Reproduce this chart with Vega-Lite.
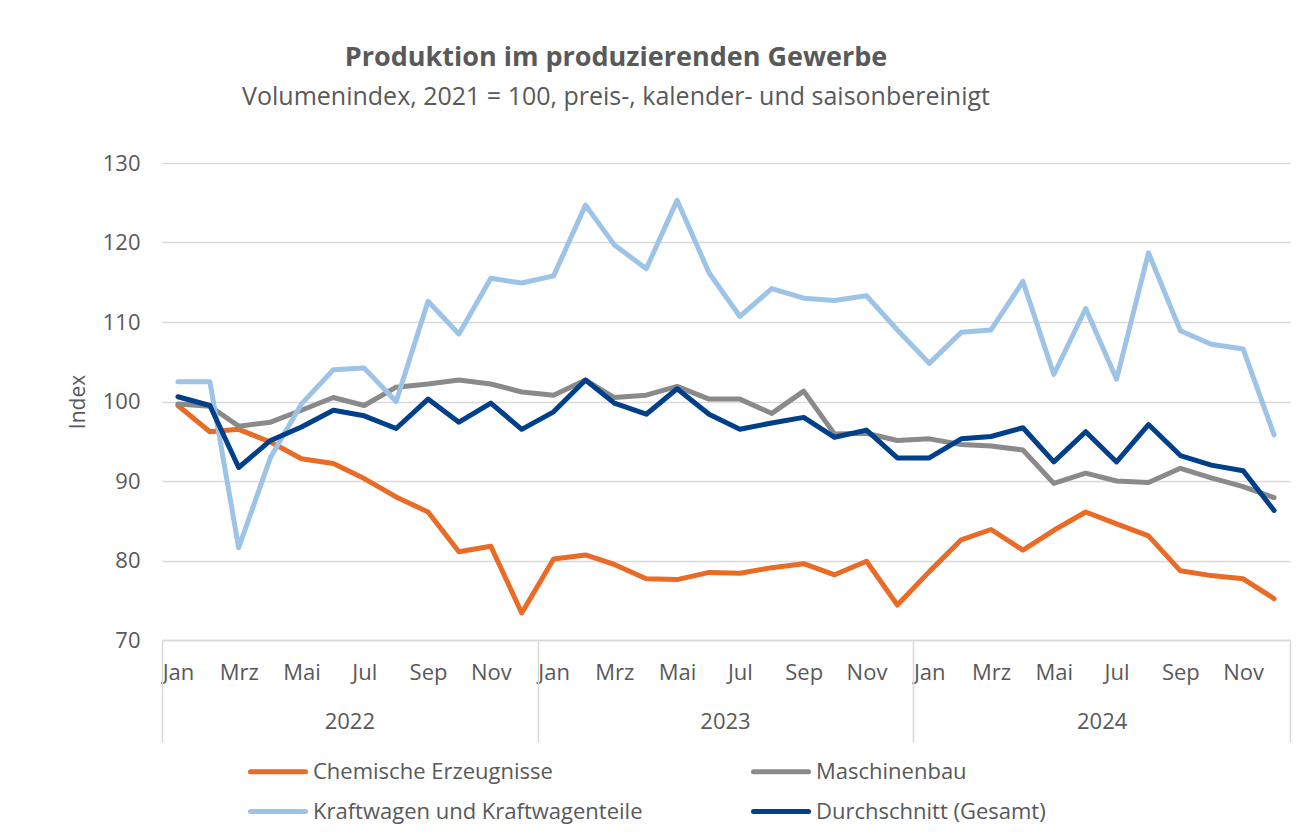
{
  "$schema": "https://vega.github.io/schema/vega-lite/v6.json",
  "width": 1128,
  "height": 477,
  "autosize": {"type": "none"},
  "padding": {"left": 162, "top": 163, "right": 26, "bottom": 194},
  "background": "white",
  "config": {"font": "Open Sans", "view": {"stroke": null}},
  "title": {
    "text": "Produktion im produzierenden Gewerbe",
    "subtitle": "Volumenindex, 2021 = 100, preis-, kalender- und saisonbereinigt",
    "anchor": "middle",
    "frame": "group",
    "dx": -110,
    "offset": 41,
    "font": "Open Sans",
    "fontSize": 27,
    "fontWeight": "bold",
    "color": "#595959",
    "subtitleFont": "Open Sans",
    "subtitleFontSize": 25,
    "subtitleColor": "#595959",
    "subtitlePadding": 13
  },
  "data": {
    "values": [
      {"Monat": "2022-01-01", "Chemische Erzeugnisse": 99.5, "Maschinenbau": 99.7, "Kraftwagen und Kraftwagenteile": 102.5, "Durchschnitt (Gesamt)": 100.6},
      {"Monat": "2022-02-01", "Chemische Erzeugnisse": 96.2, "Maschinenbau": 99.4, "Kraftwagen und Kraftwagenteile": 102.5, "Durchschnitt (Gesamt)": 99.5},
      {"Monat": "2022-03-01", "Chemische Erzeugnisse": 96.5, "Maschinenbau": 96.9, "Kraftwagen und Kraftwagenteile": 81.6, "Durchschnitt (Gesamt)": 91.7},
      {"Monat": "2022-04-01", "Chemische Erzeugnisse": 94.9, "Maschinenbau": 97.4, "Kraftwagen und Kraftwagenteile": 93.0, "Durchschnitt (Gesamt)": 95.1},
      {"Monat": "2022-05-01", "Chemische Erzeugnisse": 92.8, "Maschinenbau": 98.9, "Kraftwagen und Kraftwagenteile": 99.7, "Durchschnitt (Gesamt)": 96.8},
      {"Monat": "2022-06-01", "Chemische Erzeugnisse": 92.2, "Maschinenbau": 100.5, "Kraftwagen und Kraftwagenteile": 104.0, "Durchschnitt (Gesamt)": 98.9},
      {"Monat": "2022-07-01", "Chemische Erzeugnisse": 90.3, "Maschinenbau": 99.5, "Kraftwagen und Kraftwagenteile": 104.2, "Durchschnitt (Gesamt)": 98.2},
      {"Monat": "2022-08-01", "Chemische Erzeugnisse": 88.0, "Maschinenbau": 101.8, "Kraftwagen und Kraftwagenteile": 100.0, "Durchschnitt (Gesamt)": 96.6},
      {"Monat": "2022-09-01", "Chemische Erzeugnisse": 86.1, "Maschinenbau": 102.2, "Kraftwagen und Kraftwagenteile": 112.6, "Durchschnitt (Gesamt)": 100.3},
      {"Monat": "2022-10-01", "Chemische Erzeugnisse": 81.1, "Maschinenbau": 102.7, "Kraftwagen und Kraftwagenteile": 108.5, "Durchschnitt (Gesamt)": 97.4},
      {"Monat": "2022-11-01", "Chemische Erzeugnisse": 81.8, "Maschinenbau": 102.2, "Kraftwagen und Kraftwagenteile": 115.5, "Durchschnitt (Gesamt)": 99.8},
      {"Monat": "2022-12-01", "Chemische Erzeugnisse": 73.4, "Maschinenbau": 101.2, "Kraftwagen und Kraftwagenteile": 114.9, "Durchschnitt (Gesamt)": 96.5},
      {"Monat": "2023-01-01", "Chemische Erzeugnisse": 80.2, "Maschinenbau": 100.8, "Kraftwagen und Kraftwagenteile": 115.8, "Durchschnitt (Gesamt)": 98.7},
      {"Monat": "2023-02-01", "Chemische Erzeugnisse": 80.7, "Maschinenbau": 102.7, "Kraftwagen und Kraftwagenteile": 124.7, "Durchschnitt (Gesamt)": 102.7},
      {"Monat": "2023-03-01", "Chemische Erzeugnisse": 79.5, "Maschinenbau": 100.5, "Kraftwagen und Kraftwagenteile": 119.7, "Durchschnitt (Gesamt)": 99.8},
      {"Monat": "2023-04-01", "Chemische Erzeugnisse": 77.7, "Maschinenbau": 100.8, "Kraftwagen und Kraftwagenteile": 116.7, "Durchschnitt (Gesamt)": 98.4},
      {"Monat": "2023-05-01", "Chemische Erzeugnisse": 77.6, "Maschinenbau": 101.9, "Kraftwagen und Kraftwagenteile": 125.3, "Durchschnitt (Gesamt)": 101.6},
      {"Monat": "2023-06-01", "Chemische Erzeugnisse": 78.5, "Maschinenbau": 100.3, "Kraftwagen und Kraftwagenteile": 116.2, "Durchschnitt (Gesamt)": 98.4},
      {"Monat": "2023-07-01", "Chemische Erzeugnisse": 78.4, "Maschinenbau": 100.3, "Kraftwagen und Kraftwagenteile": 110.7, "Durchschnitt (Gesamt)": 96.5},
      {"Monat": "2023-08-01", "Chemische Erzeugnisse": 79.1, "Maschinenbau": 98.5, "Kraftwagen und Kraftwagenteile": 114.2, "Durchschnitt (Gesamt)": 97.3},
      {"Monat": "2023-09-01", "Chemische Erzeugnisse": 79.6, "Maschinenbau": 101.3, "Kraftwagen und Kraftwagenteile": 113.0, "Durchschnitt (Gesamt)": 98.0},
      {"Monat": "2023-10-01", "Chemische Erzeugnisse": 78.2, "Maschinenbau": 95.9, "Kraftwagen und Kraftwagenteile": 112.7, "Durchschnitt (Gesamt)": 95.5},
      {"Monat": "2023-11-01", "Chemische Erzeugnisse": 79.9, "Maschinenbau": 96.0, "Kraftwagen und Kraftwagenteile": 113.3, "Durchschnitt (Gesamt)": 96.4},
      {"Monat": "2023-12-01", "Chemische Erzeugnisse": 74.4, "Maschinenbau": 95.1, "Kraftwagen und Kraftwagenteile": 109.0, "Durchschnitt (Gesamt)": 92.9},
      {"Monat": "2024-01-01", "Chemische Erzeugnisse": 78.6, "Maschinenbau": 95.3, "Kraftwagen und Kraftwagenteile": 104.8, "Durchschnitt (Gesamt)": 92.9},
      {"Monat": "2024-02-01", "Chemische Erzeugnisse": 82.6, "Maschinenbau": 94.6, "Kraftwagen und Kraftwagenteile": 108.7, "Durchschnitt (Gesamt)": 95.3},
      {"Monat": "2024-03-01", "Chemische Erzeugnisse": 83.9, "Maschinenbau": 94.4, "Kraftwagen und Kraftwagenteile": 109.0, "Durchschnitt (Gesamt)": 95.6},
      {"Monat": "2024-04-01", "Chemische Erzeugnisse": 81.3, "Maschinenbau": 93.9, "Kraftwagen und Kraftwagenteile": 115.1, "Durchschnitt (Gesamt)": 96.7},
      {"Monat": "2024-05-01", "Chemische Erzeugnisse": 83.8, "Maschinenbau": 89.7, "Kraftwagen und Kraftwagenteile": 103.4, "Durchschnitt (Gesamt)": 92.4},
      {"Monat": "2024-06-01", "Chemische Erzeugnisse": 86.1, "Maschinenbau": 91.0, "Kraftwagen und Kraftwagenteile": 111.7, "Durchschnitt (Gesamt)": 96.2},
      {"Monat": "2024-07-01", "Chemische Erzeugnisse": 84.6, "Maschinenbau": 90.0, "Kraftwagen und Kraftwagenteile": 102.8, "Durchschnitt (Gesamt)": 92.4},
      {"Monat": "2024-08-01", "Chemische Erzeugnisse": 83.1, "Maschinenbau": 89.8, "Kraftwagen und Kraftwagenteile": 118.7, "Durchschnitt (Gesamt)": 97.1},
      {"Monat": "2024-09-01", "Chemische Erzeugnisse": 78.7, "Maschinenbau": 91.6, "Kraftwagen und Kraftwagenteile": 108.9, "Durchschnitt (Gesamt)": 93.2},
      {"Monat": "2024-10-01", "Chemische Erzeugnisse": 78.1, "Maschinenbau": 90.4, "Kraftwagen und Kraftwagenteile": 107.2, "Durchschnitt (Gesamt)": 92.0},
      {"Monat": "2024-11-01", "Chemische Erzeugnisse": 77.7, "Maschinenbau": 89.3, "Kraftwagen und Kraftwagenteile": 106.6, "Durchschnitt (Gesamt)": 91.3},
      {"Monat": "2024-12-01", "Chemische Erzeugnisse": 75.2, "Maschinenbau": 87.9, "Kraftwagen und Kraftwagenteile": 95.8, "Durchschnitt (Gesamt)": 86.3}
    ]
  },
  "transform": [
    {"fold": ["Chemische Erzeugnisse", "Maschinenbau", "Kraftwagen und Kraftwagenteile", "Durchschnitt (Gesamt)"], "as": ["Reihe", "Wert"]}
  ],
  "layer": [
    {
      "mark": {"type": "line", "strokeWidth": 5, "strokeJoin": "round", "strokeCap": "round"},
      "encoding": {
        "x": {
          "field": "Monat",
          "type": "temporal",
          "scale": {"type": "utc", "domain": [
            {"year": 2021, "month": 12, "date": 16, "hours": 12, "utc": true},
            {"year": 2024, "month": 12, "date": 16, "hours": 12, "utc": true}
          ]},
          "axis": {
            "orient": "bottom",
            "title": null,
            "values": [
              {"year": 2022, "month": 1, "date": 1, "utc": true},
              {"year": 2022, "month": 3, "date": 1, "utc": true},
              {"year": 2022, "month": 5, "date": 1, "utc": true},
              {"year": 2022, "month": 7, "date": 1, "utc": true},
              {"year": 2022, "month": 9, "date": 1, "utc": true},
              {"year": 2022, "month": 11, "date": 1, "utc": true},
              {"year": 2023, "month": 1, "date": 1, "utc": true},
              {"year": 2023, "month": 3, "date": 1, "utc": true},
              {"year": 2023, "month": 5, "date": 1, "utc": true},
              {"year": 2023, "month": 7, "date": 1, "utc": true},
              {"year": 2023, "month": 9, "date": 1, "utc": true},
              {"year": 2023, "month": 11, "date": 1, "utc": true},
              {"year": 2024, "month": 1, "date": 1, "utc": true},
              {"year": 2024, "month": 3, "date": 1, "utc": true},
              {"year": 2024, "month": 5, "date": 1, "utc": true},
              {"year": 2024, "month": 7, "date": 1, "utc": true},
              {"year": 2024, "month": 9, "date": 1, "utc": true},
              {"year": 2024, "month": 11, "date": 1, "utc": true}
            ],
            "labelExpr": "['Jan','Feb','Mrz','Apr','Mai','Jun','Jul','Aug','Sep','Okt','Nov','Dez'][utcmonth(datum.value)]",
            "ticks": false,
            "tickSize": 0,
            "grid": false,
            "domain": true,
            "domainColor": "#D9D9D9",
            "domainWidth": 1.5,
            "labelFontSize": 22,
            "labelColor": "#595959",
            "labelPadding": 22,
            "labelFlush": false,
            "labelOverlap": false
          }
        },
        "y": {
          "field": "Wert",
          "type": "quantitative",
          "scale": {"domain": [70, 130], "nice": false, "zero": false},
          "axis": {
            "values": [70, 80, 90, 100, 110, 120, 130],
            "title": "Index",
            "grid": true,
            "gridColor": "#D9D9D9",
            "gridWidth": 1.5,
            "domain": false,
            "ticks": false,
            "tickSize": 0,
            "labelPadding": 22,
            "labelFontSize": 22,
            "labelColor": "#595959",
            "titleFontSize": 21,
            "titleFontWeight": "normal",
            "titleColor": "#595959",
            "titlePadding": 14
          }
        },
        "color": {
          "field": "Reihe",
          "type": "nominal",
          "scale": {
            "domain": ["Chemische Erzeugnisse", "Maschinenbau", "Kraftwagen und Kraftwagenteile", "Durchschnitt (Gesamt)"],
            "range": ["#E96B26", "#8A8A8A", "#9DC3E6", "#003F8A"]
          },
          "legend": {
            "title": null,
            "orient": "none",
            "legendX": 86,
            "legendY": 596,
            "columns": 2,
            "direction": "horizontal",
            "columnPadding": 100,
            "rowPadding": 16,
            "labelFontSize": 22,
            "labelColor": "#595959",
            "labelOffset": 40,
            "labelLimit": 500,
            "symbolType": "M-1,0H4.5",
            "symbolSize": 400,
            "symbolStrokeWidth": 5,
            "encode": {"symbols": {"update": {"strokeCap": {"value": "round"}}}}
          }
        }
      }
    },
    {
      "mark": {"type": "rule", "opacity": 0},
      "encoding": {
        "x": {
          "field": "Monat",
          "type": "temporal",
          "scale": {"type": "utc", "domain": [
            {"year": 2021, "month": 12, "date": 16, "hours": 12, "utc": true},
            {"year": 2024, "month": 12, "date": 16, "hours": 12, "utc": true}
          ]},
          "axis": {
            "orient": "bottom",
            "title": null,
            "values": [
              {"year": 2022, "month": 6, "date": 16, "hours": 12, "utc": true},
              {"year": 2023, "month": 6, "date": 16, "hours": 12, "utc": true},
              {"year": 2024, "month": 6, "date": 16, "hours": 12, "utc": true}
            ],
            "labelExpr": "'' + utcyear(datum.value)",
            "ticks": false,
            "tickSize": 0,
            "grid": false,
            "domain": false,
            "labelFontSize": 22,
            "labelColor": "#595959",
            "labelPadding": 71,
            "labelFlush": false,
            "labelOverlap": false
          }
        }
      }
    },
    {
      "mark": {"type": "rule", "opacity": 0},
      "encoding": {
        "x": {
          "field": "Monat",
          "type": "temporal",
          "scale": {"type": "utc", "domain": [
            {"year": 2021, "month": 12, "date": 16, "hours": 12, "utc": true},
            {"year": 2024, "month": 12, "date": 16, "hours": 12, "utc": true}
          ]},
          "axis": {
            "orient": "bottom",
            "title": null,
            "values": [
              {"year": 2021, "month": 12, "date": 16, "hours": 12, "utc": true},
              {"year": 2022, "month": 12, "date": 16, "hours": 12, "utc": true},
              {"year": 2023, "month": 12, "date": 16, "hours": 12, "utc": true},
              {"year": 2024, "month": 12, "date": 16, "hours": 12, "utc": true}
            ],
            "labels": false,
            "ticks": true,
            "tickSize": 102,
            "tickColor": "#D9D9D9",
            "tickWidth": 1.5,
            "grid": false,
            "domain": false
          }
        }
      }
    }
  ],
  "resolve": {"axis": {"x": "independent"}}
}
